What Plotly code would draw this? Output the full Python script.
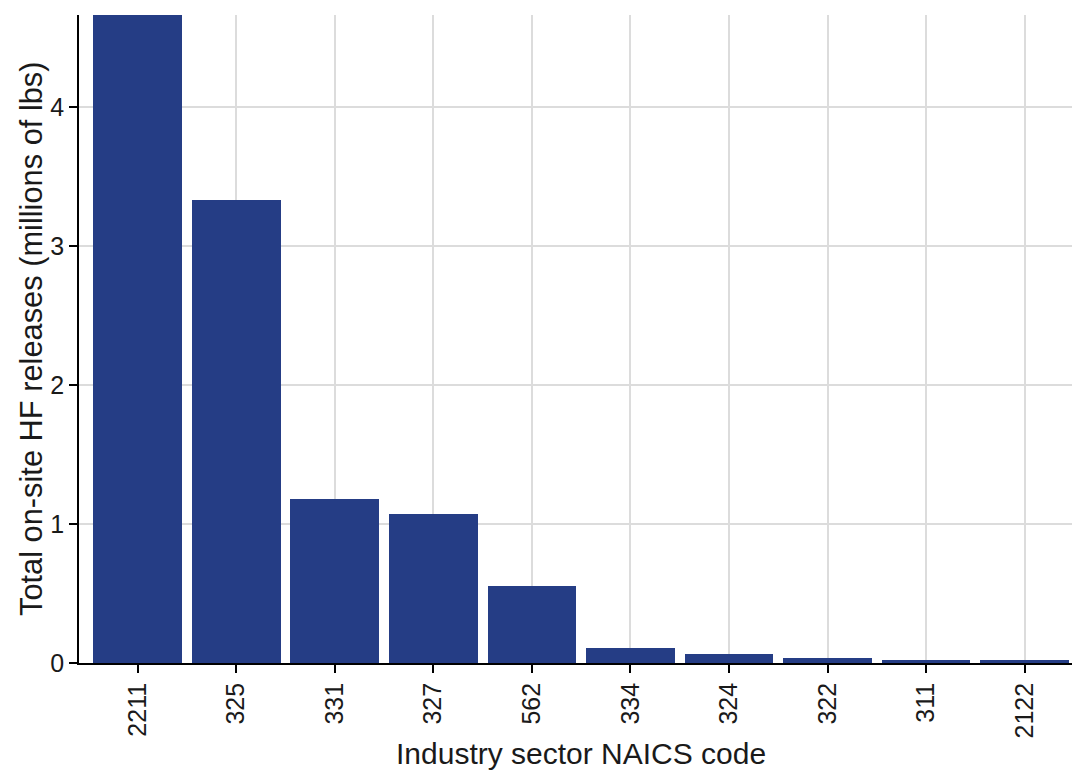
import plotly.graph_objects as go

categories = ["2211", "325", "331", "327", "562", "334", "324", "322", "311", "2122"]
releases = [4.67, 3.33, 1.18, 1.075, 0.555, 0.108, 0.065, 0.036, 0.022, 0.020]
x_title = "Industry sector NAICS code"
y_title = "Total on-site HF releases (millions of lbs)"

L, R, T, B = 79, 1, 15, 107
W, H = 1073, 770
pw, ph = W - L - R, H - T - B

fig = go.Figure()
fig.add_trace(go.Bar(
    x=list(range(len(categories))), y=releases,
    width=0.9, marker=dict(color="#253d85", line=dict(width=0)),
))

fig.update_layout(
    width=W, height=H,
    margin=dict(l=L, r=R, t=T, b=B),
    plot_bgcolor="white", paper_bgcolor="white",
    font=dict(family="Liberation Sans, Arial, sans-serif", color="black", size=25),
    showlegend=False,
    bargap=0,
)
fig.update_xaxes(
    automargin=False,
    range=[-0.595, 9.48],
    tickmode="array", tickvals=list(range(len(categories))), ticktext=categories,
    tickangle=-90, tickfont=dict(size=25, color="#1a1a1a"),
    showgrid=True, gridcolor="#dcdcdc", gridwidth=1.5,
    showline=True, linecolor="black", linewidth=1.8,
    ticks="outside", ticklen=8, tickcolor="black", tickwidth=1.8,
    zeroline=False,
)
fig.update_yaxes(
    automargin=False,
    range=[0, 4.663],
    tickvals=[0, 1, 2, 3, 4],
    tickfont=dict(size=25, color="#1a1a1a"),
    showgrid=True, gridcolor="#dcdcdc", gridwidth=1.5,
    showline=True, linecolor="black", linewidth=1.8,
    ticks="outside", ticklen=8, tickcolor="black", tickwidth=1.8,
    zeroline=False,
)

fig.add_annotation(
    text=x_title, xref="paper", yref="paper",
    x=(581 - L) / pw, y=-(753 - (H - B)) / ph,
    xanchor="center", yanchor="middle", showarrow=False,
    font=dict(size=30, color="#1a1a1a"),
)
fig.add_annotation(
    text=y_title, xref="paper", yref="paper",
    x=(31 - L) / pw, y=0.5, textangle=-90,
    xanchor="center", yanchor="middle", showarrow=False,
    font=dict(size=30.8, color="#1a1a1a"),
)

fig.write_html(
    "out.html",
    config={"displayModeBar": False},
    post_script="document.body.style.margin='0';document.body.style.overflow='hidden';",
)
